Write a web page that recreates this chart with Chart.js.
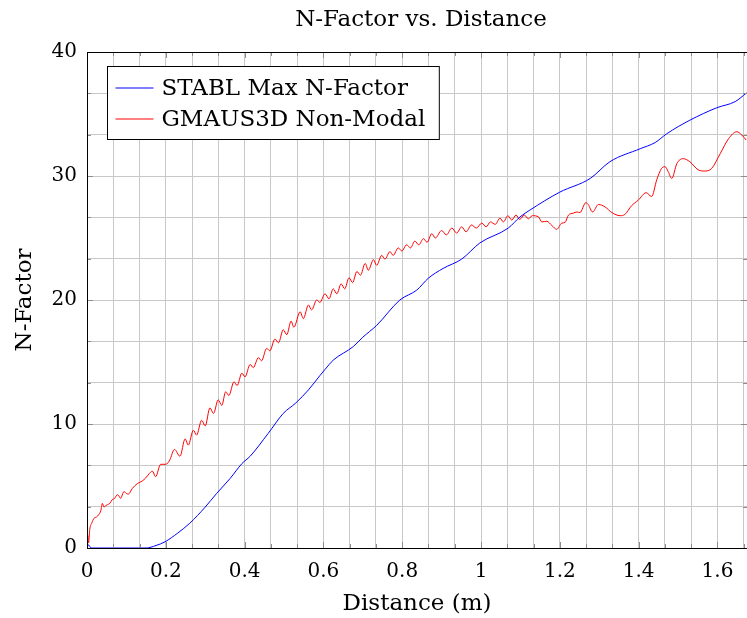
<!DOCTYPE html>
<html>
<head>
<meta charset="utf-8">
<script src="https://cdn.jsdelivr.net/npm/chart.js@4.4.1/dist/chart.umd.min.js"></script>
<style>
  html, body { margin: 0; padding: 0; background: #fff; }
</style>
</head>
<body>
<canvas id="chart" width="747" height="618"></canvas>
<script>
// STABL Max N-Factor (blue)
const stablX = [0, 0.004, 0.01, 0.15, 0.175, 0.198, 0.23, 0.261, 0.3, 0.329, 0.363, 0.393, 0.414, 0.46, 0.498, 0.53,
    0.562, 0.591, 0.604, 0.625, 0.676, 0.70, 0.735, 0.794, 0.837, 0.866, 0.904, 0.951, 0.997, 1.069, 1.099, 1.124,
    1.2, 1.277, 1.327, 1.404, 1.442, 1.471, 1.53, 1.598, 1.645, 1.674];
const stablY = [0, 0.25, 0, 0, 0.2, 0.5, 1.2, 2.0, 3.3, 4.4, 5.6, 6.8, 7.4, 9.25, 10.85, 11.7,
    12.75, 13.9, 14.4, 15.15, 16.25, 17.0, 17.95, 20.0, 20.8, 21.75, 22.55, 23.3, 24.6, 25.8, 26.7, 27.25,
    28.7, 29.8, 31.15, 32.2, 32.7, 33.4, 34.5, 35.5, 36.0, 36.7];

// GMAUS3D Non-Modal (red)
const gmausX = [0, 0.002, 0.004, 0.007, 0.012, 0.018, 0.024, 0.030, 0.035, 0.039, 0.043, 0.047, 0.052, 0.058, 0.064,
    0.07, 0.077, 0.081, 0.085, 0.094, 0.1, 0.105, 0.115, 0.128, 0.14, 0.149, 0.158, 0.166, 0.174, 0.187, 0.2, 0.21,
    0.222, 0.236, 0.249, 0.257, 0.27, 0.278, 0.291, 0.3, 0.312, 0.321, 0.333, 0.342, 0.352, 0.36, 0.373, 0.381,
    0.393, 0.401, 0.414, 0.422, 0.435, 0.443, 0.456, 0.464, 0.477, 0.486, 0.498, 0.507, 0.518, 0.525, 0.541, 0.549,
    0.562, 0.57, 0.583, 0.591, 0.604, 0.614, 0.625, 0.634, 0.645, 0.654, 0.665, 0.674, 0.685, 0.694, 0.706, 0.714,
    0.727, 0.735, 0.748, 0.756, 0.769, 0.777, 0.79, 0.799, 0.811, 0.821, 0.832, 0.842, 0.854, 0.863, 0.875, 0.884,
    0.9, 0.912, 0.926, 0.938, 0.951, 0.962, 0.976, 0.988, 1.002, 1.013, 1.024, 1.036, 1.048, 1.057, 1.068, 1.078,
    1.089, 1.098, 1.11, 1.12, 1.13, 1.146, 1.154, 1.167, 1.18, 1.192, 1.205, 1.213, 1.222, 1.234, 1.243, 1.251,
    1.266, 1.272, 1.283, 1.298, 1.315, 1.332, 1.353, 1.365, 1.382, 1.399, 1.419, 1.433, 1.446, 1.458, 1.467, 1.475,
    1.484, 1.497, 1.513, 1.53, 1.551, 1.568, 1.585, 1.607, 1.628, 1.649, 1.662, 1.673];
const gmausY = [0, 1.0, 0.4, 1.5, 2.0, 2.4, 2.5, 2.7, 3.0, 3.6, 3.3, 3.4, 3.5, 3.6, 3.9,
    4.0, 4.3, 4.2, 4.0, 4.55, 4.4, 4.35, 4.8, 5.2, 5.4, 5.65, 6.0, 6.2, 5.75, 6.75, 6.75, 7.1,
    7.95, 7.4, 8.8, 8.3, 9.5, 9.1, 10.3, 9.85, 11.3, 10.85, 11.95, 11.5, 12.6, 12.3, 13.4, 13.1,
    14.1, 13.8, 14.8, 14.55, 15.35, 15.1, 16.1, 15.9, 16.85, 16.55, 17.6, 17.2, 18.3, 17.8, 19.05, 18.5,
    19.6, 19.2, 20.0, 19.8, 20.5, 20.1, 20.9, 20.5, 21.3, 20.9, 21.8, 21.4, 22.3, 22.0, 22.95, 22.4,
    23.25, 22.8, 23.6, 23.3, 23.9, 23.6, 24.2, 23.95, 24.45, 24.2, 24.75, 24.45, 24.95, 24.65, 25.35, 25.0,
    25.6, 25.25, 25.8, 25.4, 25.9, 25.5, 26.05, 25.8, 26.2, 25.9, 26.3, 26.1, 26.6, 26.3, 26.8, 26.45,
    26.85, 26.5, 26.85, 26.55, 26.8, 26.7, 26.3, 26.35, 26.0, 25.7, 26.2, 26.25, 26.85, 27.0, 27.1, 27.05,
    27.85, 27.7, 27.1, 27.7, 27.5, 27.05, 26.8, 26.9, 27.6, 28.05, 28.65, 28.35, 29.7, 30.6, 30.75, 30.35,
    29.8, 31.0, 31.4, 31.15, 30.5, 30.4, 30.6, 31.8, 33.0, 33.57, 33.3, 32.9];

const seriesLabels = ['STABL Max N-Factor', 'GMAUS3D Non-Modal'];
const chartTitle = 'N-Factor vs. Distance';
const xTickLabels = [0, 0.2, 0.4, 0.6, 0.8, 1, 1.2, 1.4, 1.6];
const yTickLabels = [0, 10, 20, 30, 40];
const xMax = 1.675;
const yMax = 40;
const gridDiv = 3; // grid lines per labelled tick

function toPoints(xs, ys) {
    return xs.map(function(x, i) { return { x: x, y: ys[i] }; });
}

function isLabelled(v, list) {
    return list.some(function(t) { return Math.abs(t - v) < 1e-6; });
}

const serif = 'DejaVu Serif';

// frame, inner tick marks, title over the plot area and legend
const framePlugin = {
    id: 'frame',
    afterDraw: function(chart) {
        const ctx = chart.ctx;
        const a = chart.chartArea;
        const xs = chart.scales.x, ys = chart.scales.y;
        ctx.save();
        ctx.strokeStyle = '#8c8c8c';
        ctx.lineWidth = 1;
        xs.ticks.forEach(function(t) {
            const px = Math.round(xs.getPixelForValue(t.value)) + 0.5;
            const len = isLabelled(t.value, xTickLabels) ? 6 : 4;
            ctx.beginPath();
            ctx.moveTo(px, a.bottom); ctx.lineTo(px, a.bottom - len);
            ctx.moveTo(px, a.top); ctx.lineTo(px, a.top + len);
            ctx.stroke();
        });
        ys.ticks.forEach(function(t) {
            const py = Math.round(ys.getPixelForValue(t.value)) + 0.5;
            const len = isLabelled(t.value, yTickLabels) ? 6 : 4;
            ctx.beginPath();
            ctx.moveTo(a.left, py); ctx.lineTo(a.left + len, py);
            ctx.moveTo(a.right, py); ctx.lineTo(a.right - len, py);
            ctx.stroke();
        });
        ctx.strokeStyle = '#000';
        ctx.strokeRect(Math.round(a.left) + 0.5, Math.round(a.top) + 0.5,
            Math.round(a.right - a.left), Math.round(a.bottom - a.top));

        // title, centred on the plot area
        ctx.fillStyle = '#000';
        ctx.font = '23px "' + serif + '"';
        ctx.textAlign = 'center';
        ctx.textBaseline = 'middle';
        ctx.fillText(chartTitle, (a.left + a.right) / 2 + 4, 20);

        // legend box
        let maxW = 0;
        chart.data.datasets.forEach(function(ds) { maxW = Math.max(maxW, ctx.measureText(ds.label).width); });
        const bx = a.left + 20.5, by = a.top + 14.5;
        const rowH = 31, lineLen = 38;
        const bw = 10 + lineLen + 6 + maxW + 14;
        const bh = 6 + rowH * chart.data.datasets.length + 5;
        ctx.fillStyle = '#fff';
        ctx.fillRect(bx, by, bw, bh);
        ctx.strokeStyle = '#000';
        ctx.strokeRect(bx, by, bw, bh);
        chart.data.datasets.forEach(function(ds, i) {
            const cy = by + 6 + rowH * i + rowH / 2;
            ctx.strokeStyle = ds.borderColor;
            ctx.beginPath();
            ctx.moveTo(bx + 8, cy); ctx.lineTo(bx + 8 + lineLen, cy);
            ctx.stroke();
            ctx.fillStyle = '#000';
            ctx.textBaseline = 'middle';
            ctx.textAlign = 'left';
            ctx.fillText(ds.label, bx + 10 + lineLen + 6, cy + 1);
        });
        ctx.restore();
    }
};

const ctx = document.getElementById('chart').getContext('2d');
const chart = new Chart(ctx, {
    type: 'scatter',
    data: {
        datasets: [{
            label: seriesLabels[0],
            data: toPoints(stablX, stablY),
            showLine: true,
            borderColor: '#0000ff',
            borderWidth: 1,
            pointRadius: 0,
            cubicInterpolationMode: 'monotone'
        }, {
            label: seriesLabels[1],
            data: toPoints(gmausX, gmausY),
            showLine: true,
            borderColor: '#ff0000',
            borderWidth: 1,
            pointRadius: 0,
            cubicInterpolationMode: 'monotone'
        }]
    },
    options: {
        responsive: false,
        animation: false,
        layout: { padding: { left: 0, right: 0, top: 52, bottom: 0 } },
        scales: {
            x: {
                type: 'linear',
                min: 0,
                max: xMax,
                afterBuildTicks: function(scale) {
                    const t = [];
                    for (let i = 0; i * 0.2 / gridDiv <= xMax + 1e-9; i++) t.push({ value: i * 0.2 / gridDiv });
                    scale.ticks = t;
                },
                afterFit: function(scale) {
                    scale.height = 70;
                    scale.paddingLeft = 0;
                    scale.paddingRight = 0;
                },
                grid: { color: '#c8c8c8', lineWidth: 1, drawTicks: false },
                border: { display: false },
                ticks: {
                    autoSkip: false,
                    maxRotation: 0,
                    padding: 12,
                    color: '#000',
                    font: { family: serif, size: 20 },
                    callback: function(v) {
                        return isLabelled(v, xTickLabels) ? String(Number(v.toFixed(1))) : '';
                    }
                },
                title: {
                    display: true,
                    text: 'Distance (m)',
                    color: '#000',
                    font: { family: serif, size: 23 },
                    padding: { top: 0, bottom: 0 }
                }
            },
            y: {
                type: 'linear',
                min: 0,
                max: yMax,
                afterBuildTicks: function(scale) {
                    const t = [];
                    for (let i = 0; i <= yMax / 10 * gridDiv; i++) t.push({ value: i * 10 / gridDiv });
                    scale.ticks = t;
                },
                afterFit: function(scale) {
                    scale.width = 87;
                    scale.paddingTop = 0;
                    scale.paddingBottom = 0;
                },
                grid: { color: '#c8c8c8', lineWidth: 1, drawTicks: false },
                border: { display: false },
                ticks: {
                    autoSkip: false,
                    padding: 10,
                    color: '#000',
                    font: { family: serif, size: 20 },
                    callback: function(v) {
                        return isLabelled(v, yTickLabels) ? String(Math.round(v)) : '';
                    }
                },
                title: {
                    display: true,
                    text: 'N-Factor',
                    color: '#000',
                    font: { family: serif, size: 23 },
                    padding: { top: 11, bottom: 0 }
                }
            }
        },
        plugins: {
            legend: { display: false },
            tooltip: { enabled: false },
            title: { display: false }
        }
    },
    plugins: [framePlugin]
});
</script>
</body>
</html>
